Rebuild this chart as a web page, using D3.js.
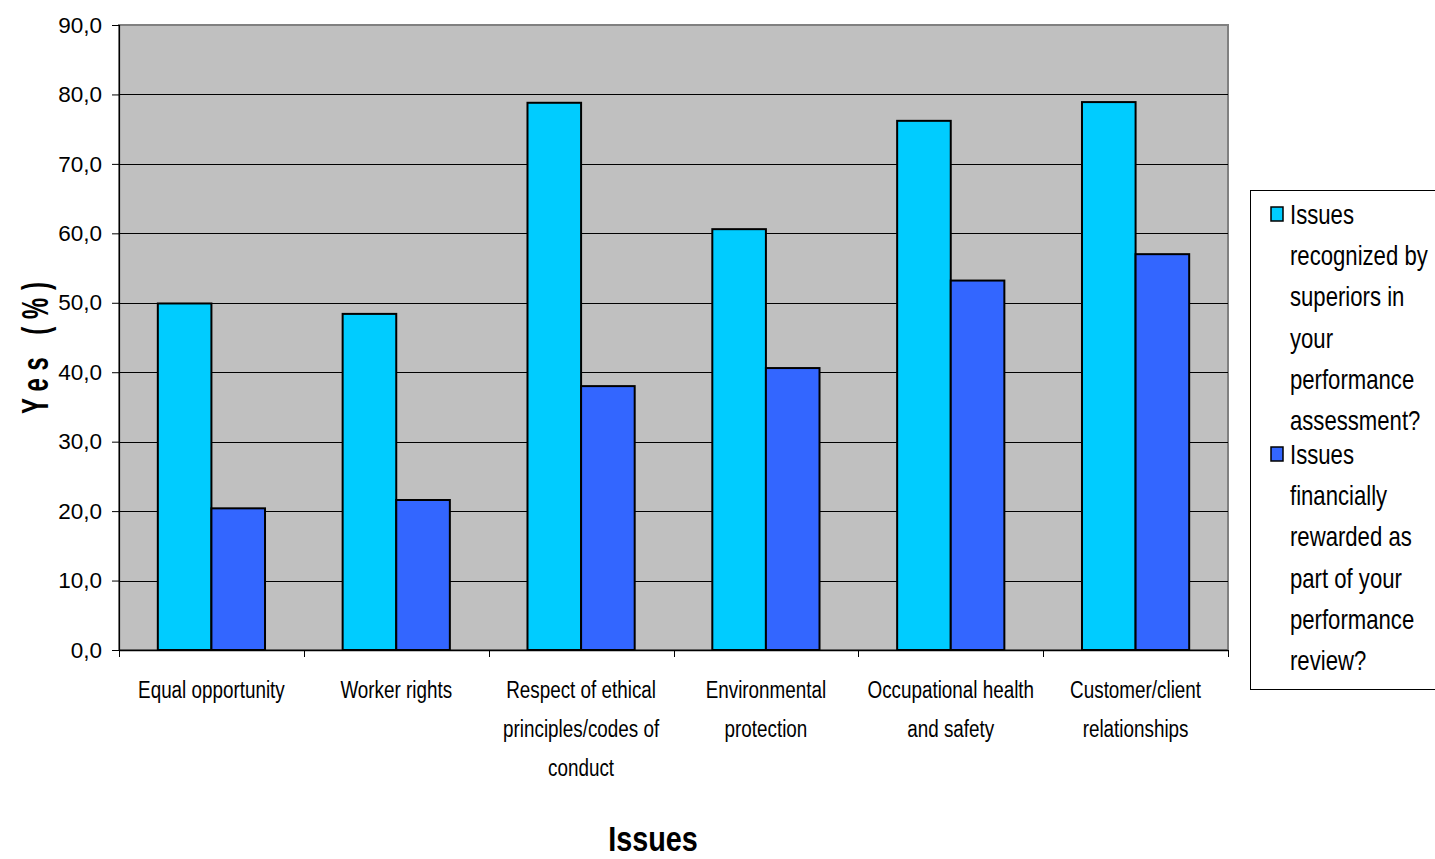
<!DOCTYPE html>
<html>
<head>
<meta charset="utf-8">
<script src="https://cdn.jsdelivr.net/npm/d3@7"></script>
<style>
  html, body { margin: 0; padding: 0; background: #ffffff; }
  svg { display: block; }
  text { font-family: "Liberation Sans", Arial, sans-serif; }
</style>
</head>
<body>
<svg id="chart" width="1435" height="859"></svg>
<script>
// Survey results: share of "Yes" answers per issue
const categories = [
  ["Equal opportunity"],
  ["Worker rights"],
  ["Respect of ethical", "principles/codes of", "conduct"],
  ["Environmental", "protection"],
  ["Occupational health", "and safety"],
  ["Customer/client", "relationships"]
];
const seriesNames = [
  ["Issues", "recognized by", "superiors in", "your", "performance", "assessment?"],
  ["Issues", "financially", "rewarded as", "part of your", "performance", "review?"]
];
const recognized = [49.9, 48.4, 78.8, 60.6, 76.2, 78.9];
const rewarded   = [20.4, 21.6, 38.0, 40.6, 53.2, 57.0];
const yTicks = [0, 10, 20, 30, 40, 50, 60, 70, 80, 90];
const seriesColors = ["#00ccff", "#3366ff"];

// Condensed look for labels: squeeze the regular face horizontally
const NARROW = 0.82;

const svg = d3.select("#chart");
const plot = { left: 119, right: 1228, top: 25, bottom: 650 };

const x = d3.scaleBand()
  .domain(d3.range(categories.length))
  .range([plot.left, plot.right])
  .paddingInner(0).paddingOuter(0);

const y = d3.scaleLinear().domain([0, 90]).range([plot.bottom, plot.top]);

// Plot background
svg.append("rect")
  .attr("x", plot.left).attr("y", plot.top)
  .attr("width", plot.right - plot.left).attr("height", plot.bottom - plot.top)
  .attr("fill", "#c0c0c0")
  .attr("stroke", "#808080").attr("stroke-width", 2);

// Horizontal gridlines
svg.append("g").selectAll("line")
  .data(yTicks.filter(d => d > 0 && d < 90))
  .join("line")
  .attr("x1", plot.left).attr("x2", plot.right)
  .attr("y1", d => Math.round(y(d)) + 0.5).attr("y2", d => Math.round(y(d)) + 0.5)
  .attr("stroke", "#000").attr("stroke-width", 1);

// Grouped bars
const barW = x.bandwidth() * 0.29;
const groups = svg.append("g").selectAll("g")
  .data(categories.map((c, i) => i))
  .join("g")
  .attr("transform", i => `translate(${x(i) + x.bandwidth() / 2},0)`);

[recognized, rewarded].forEach((vals, s) => {
  groups.append("rect")
    .attr("x", s === 0 ? -barW : 0)
    .attr("y", i => y(vals[i]))
    .attr("width", barW)
    .attr("height", i => y(0) - y(vals[i]))
    .attr("fill", seriesColors[s])
    .attr("stroke", "#000").attr("stroke-width", 2);
});

// Y axis
const yAxis = d3.axisLeft(y)
  .tickValues(yTicks)
  .tickSize(7)
  .tickFormat(d => d3.format(".1f")(d).replace(".", ","));
const gy = svg.append("g")
  .attr("transform", `translate(${plot.left},0)`)
  .call(yAxis);
gy.select(".domain").attr("stroke", "#000").attr("stroke-width", 1.2);
gy.selectAll(".tick line").attr("stroke", "#000");
gy.selectAll(".tick text")
  .attr("x", -17)
  .attr("font-family", "Liberation Sans, Arial, sans-serif")
  .attr("font-size", 22.5)
  .attr("fill", "#000");

// X axis with ticks at category boundaries
const gx = svg.append("g").attr("transform", `translate(0,${plot.bottom})`);
gx.append("line")
  .attr("x1", plot.left).attr("x2", plot.right)
  .attr("y1", 0.5).attr("y2", 0.5)
  .attr("stroke", "#000").attr("stroke-width", 1.5);
gx.selectAll("line.tk")
  .data(d3.range(categories.length + 1))
  .join("line").attr("class", "tk")
  .attr("x1", i => Math.round(plot.left + i * x.bandwidth()) + 0.5)
  .attr("x2", i => Math.round(plot.left + i * x.bandwidth()) + 0.5)
  .attr("y1", 0).attr("y2", 7)
  .attr("stroke", "#000");

// Category labels
const catLabels = svg.append("g")
  .selectAll("text")
  .data(categories)
  .join("text")
  .attr("text-anchor", "middle")
  .attr("font-size", 23)
  .attr("fill", "#000")
  .attr("transform", (d, i) => `translate(${x(i) + x.bandwidth() / 2},698) scale(${NARROW},1)`);
catLabels.selectAll("tspan")
  .data(d => d)
  .join("tspan")
  .attr("x", 0)
  .attr("y", (d, i) => i * 39)
  .text(d => d);

// Axis titles
svg.append("text")
  .attr("transform", `translate(653,851) scale(0.8,1)`)
  .attr("text-anchor", "middle")
  .attr("font-size", 36).attr("font-weight", "bold")
  .text("Issues");

svg.append("text")
  .attr("transform", "translate(48,344) rotate(-90) scale(0.72,1.12)")
  .attr("text-anchor", "middle")
  .attr("font-size", 33).attr("font-weight", "bold")
  .attr("letter-spacing", 11)
  .text("Yes (%)");

// Legend
const legend = svg.append("g");
legend.append("rect")
  .attr("x", 1250.5).attr("y", 190.5)
  .attr("width", 200).attr("height", 499)
  .attr("fill", "#fff").attr("stroke", "#000").attr("stroke-width", 1);

seriesNames.forEach((lines, s) => {
  const top = 214 + s * 240;
  legend.append("rect")
    .attr("x", 1271).attr("y", top - 7)
    .attr("width", 12).attr("height", 14)
    .attr("fill", seriesColors[s])
    .attr("stroke", "#000").attr("stroke-width", 1.5);
  legend.append("text")
    .attr("transform", `translate(1290,0) scale(${NARROW},1)`)
    .attr("font-size", 27)
    .attr("fill", "#000")
    .selectAll("tspan")
    .data(lines)
    .join("tspan")
    .attr("x", 0)
    .attr("y", (d, i) => top + 10 + i * 41.2)
    .text(d => d);
});
</script>
</body>
</html>
